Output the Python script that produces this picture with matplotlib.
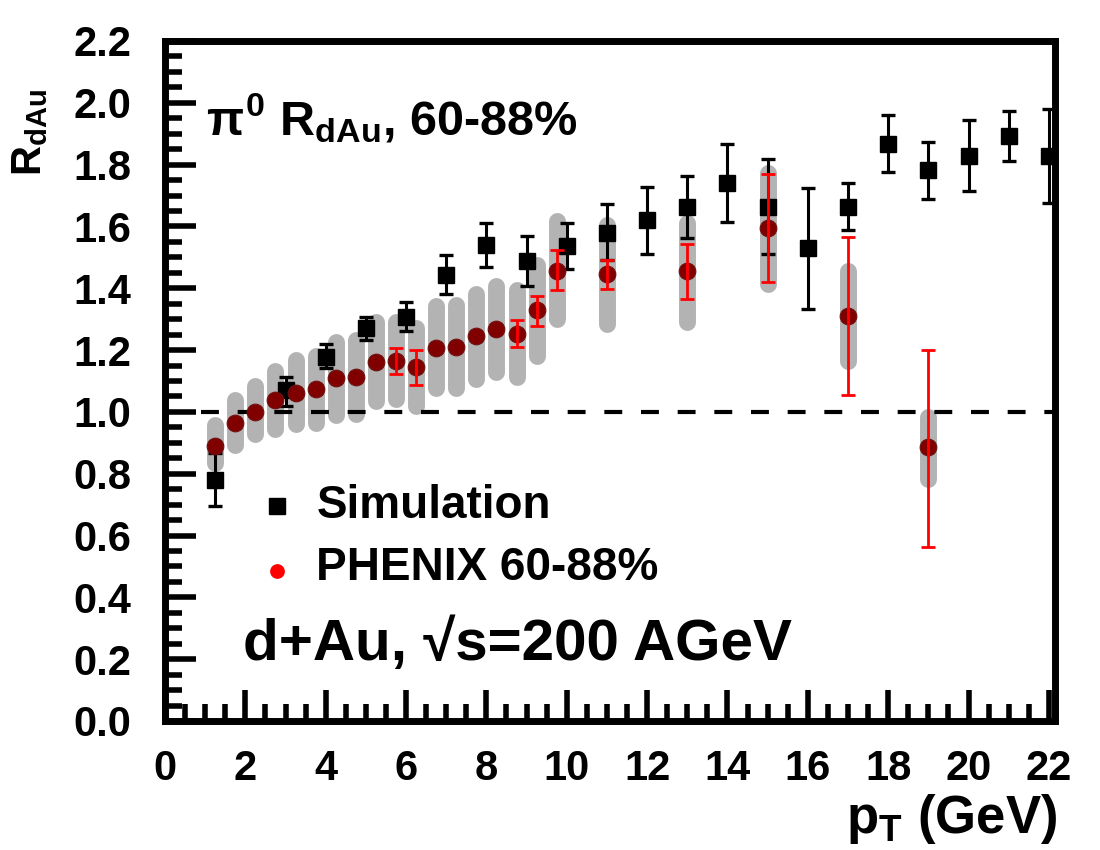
import numpy as np
import matplotlib
matplotlib.use("Agg")
import matplotlib.pyplot as plt
from matplotlib.ticker import MultipleLocator, FormatStrFormatter

plt.rcParams['font.family'] = ['Liberation Sans', 'DejaVu Sans']
plt.rcParams['font.weight'] = 'bold'
plt.rcParams['mathtext.fontset'] = 'custom'
plt.rcParams['mathtext.rm'] = 'Liberation Sans:bold'
plt.rcParams['mathtext.it'] = 'Liberation Sans:bold'
plt.rcParams['mathtext.bf'] = 'Liberation Sans:bold'
plt.rcParams['mathtext.sf'] = 'Liberation Sans:bold'

# simulation points (value, lower and upper end of the error bar)
sim_pt = [1.25, 3, 4, 5, 6, 7, 8, 9, 10, 11, 12, 13, 14, 15, 16, 17, 18, 19, 20, 21, 22]
sim_r = [0.780, 1.071, 1.179, 1.271, 1.308, 1.443, 1.540, 1.489, 1.537, 1.580, 1.620,
         1.663, 1.741, 1.664, 1.530, 1.664, 1.867, 1.781, 1.829, 1.893, 1.828]
sim_lo = [0.694, 1.019, 1.141, 1.233, 1.262, 1.381, 1.470, 1.406, 1.462, 1.490, 1.510,
          1.563, 1.615, 1.511, 1.333, 1.589, 1.777, 1.689, 1.715, 1.813, 1.676]
sim_hi = [0.866, 1.112, 1.219, 1.306, 1.354, 1.508, 1.611, 1.570, 1.611, 1.672, 1.726,
          1.764, 1.867, 1.819, 1.725, 1.741, 1.959, 1.872, 1.945, 1.972, 1.979]

# PHENIX 60-88% data
ph_pt = [1.25, 1.75, 2.25, 2.75, 3.25, 3.75, 4.25, 4.75, 5.25, 5.75, 6.25, 6.75,
         7.25, 7.75, 8.25, 8.75, 9.25, 9.75, 11, 13, 15, 17, 19]
ph_r = [0.888, 0.965, 1.001, 1.039, 1.062, 1.073, 1.109, 1.112, 1.161, 1.166, 1.146, 1.207,
        1.211, 1.244, 1.268, 1.253, 1.328, 1.457, 1.447, 1.456, 1.596, 1.311, 0.885]
# systematic band
ph_sys_lo = [0.835, 0.894, 0.928, 0.944, 0.960, 0.964, 0.991, 0.992, 1.034, 1.041, 1.018, 1.076,
             1.076, 1.105, 1.128, 1.114, 1.180, 1.299, 1.283, 1.290, 1.415, 1.166, 0.783]
ph_sys_hi = [0.957, 1.040, 1.084, 1.132, 1.167, 1.181, 1.227, 1.232, 1.291, 1.291, 1.272, 1.341,
             1.345, 1.381, 1.408, 1.394, 1.475, 1.618, 1.606, 1.610, 1.772, 1.455, 0.984]
# statistical errors (nan = smaller than the marker)
nan = np.nan
ph_stat_lo = [nan, nan, nan, nan, nan, nan, nan, nan, nan, 1.122, 1.087, nan,
              nan, nan, nan, 1.211, 1.278, 1.393, 1.398, 1.366, 1.420, 1.055, 0.564]
ph_stat_hi = [nan, nan, nan, nan, nan, nan, nan, nan, nan, 1.208, 1.200, nan,
              nan, nan, nan, 1.296, 1.376, 1.524, 1.492, 1.544, 1.770, 1.567, 1.200]

unity_x = [0.9, 22.2]
unity_y = [1.0, 1.0]

fig = plt.figure(figsize=(11, 8.5), dpi=100)
ax = fig.add_axes([0.15, 0.1518, 0.809, 0.80])

ax.vlines(ph_pt, ph_sys_lo, ph_sys_hi, colors='#b3b3b3', linewidth=12.2,
          capstyle='round', zorder=1)
ax.plot(unity_x, unity_y, color='black', lw=3, ls=(0, (4.3, 4.5)), zorder=1.5)

sim_r_a = np.array(sim_r)
sim_err = [sim_r_a - np.array(sim_lo), np.array(sim_hi) - sim_r_a]
ax.errorbar(sim_pt, sim_r, yerr=sim_err, fmt='s', color='black', ms=11,
            elinewidth=2.2, capsize=5, capthick=2.4, zorder=2)

ax.plot(ph_pt, ph_r, 'o', color='#800000', mec='#701010', mew=0.8, ms=12, zorder=2.2)

mask = ~np.isnan(np.array(ph_stat_lo))
ph_x = np.array(ph_pt)[mask]
ph_y = np.array(ph_r)[mask]
st_err = [ph_y - np.array(ph_stat_lo)[mask], np.array(ph_stat_hi)[mask] - ph_y]
ax.errorbar(ph_x, ph_y, yerr=st_err, fmt='none', ecolor='#ff0000',
            elinewidth=2, capsize=4.8, capthick=2, zorder=2.3)

ax.set_xlim(0, 22.15)
ax.set_ylim(0, 2.2)
ax.xaxis.set_major_locator(MultipleLocator(2))
ax.xaxis.set_minor_locator(MultipleLocator(0.5))
ax.yaxis.set_major_locator(MultipleLocator(0.2))
ax.yaxis.set_minor_locator(MultipleLocator(0.05))
ax.yaxis.set_major_formatter(FormatStrFormatter('%.1f'))
ax.tick_params(which='both', direction='in', width=4, top=False, right=False)
ax.tick_params(which='major', length=22)
ax.tick_params(which='minor', length=12)
ax.tick_params(axis='x', which='major', labelsize=30, pad=20)
ax.tick_params(axis='y', which='major', labelsize=30, pad=24)
for s in ax.spines.values():
    s.set_linewidth(5)

ax.text(-0.152, 0.866, r"R$_{\mathregular{dAu}}$", transform=ax.transAxes,
        rotation=90, ha='center', va='center', fontsize=30)
ax.text(1.003, -0.165, r"p$_{\mathregular{T}}$ (GeV)", transform=ax.transAxes,
        ha='right', va='baseline', fontsize=38)

ax.text(0.046, 0.862, r"$\pi^{0}$ R$_{\mathregular{dAu}}$, 60-88%", transform=ax.transAxes,
        ha='left', va='baseline', fontsize=35)
ax.text(0.088, 0.0897, "d+Au, \u221as=200 AGeV", transform=ax.transAxes,
        ha='left', va='baseline', fontsize=42)

# legend
ax.plot([0.126], [0.3166], 's', color='black', ms=11, transform=ax.transAxes)
ax.plot([0.126], [0.2206], 'o', color='#ff0000', ms=9.6, transform=ax.transAxes)
ax.text(0.170, 0.2985, "Simulation", transform=ax.transAxes, ha='left', va='baseline', fontsize=33)
ax.text(0.170, 0.207, "PHENIX 60-88%", transform=ax.transAxes, ha='left', va='baseline', fontsize=33)

fig.savefig("out.png", dpi=100)
